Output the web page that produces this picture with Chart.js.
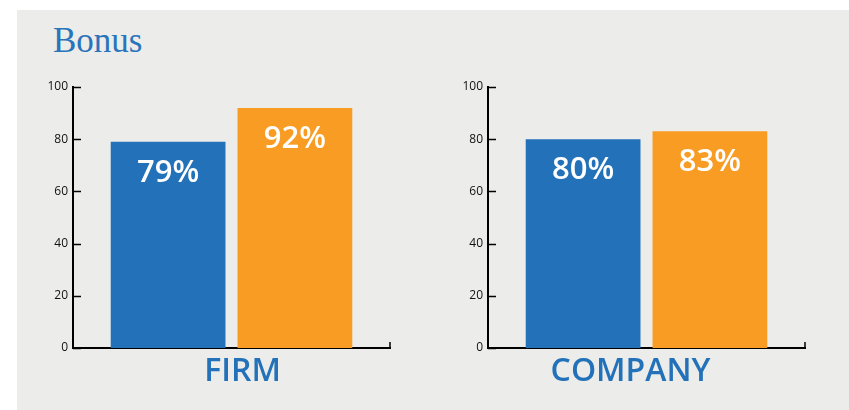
<!DOCTYPE html>
<html><head><meta charset="utf-8">
<script src="https://cdn.jsdelivr.net/npm/chart.js@4/dist/chart.umd.min.js"></script>
<style>
html,body{margin:0;padding:0;background:#fff;width:849px;height:410px;overflow:hidden;position:relative;}
#panel{position:absolute;left:17px;top:10px;width:832px;height:400px;background:#ececea;}
#title{position:absolute;left:53px;top:21px;font-family:"Liberation Serif",serif;font-size:35px;color:#2a74bb;line-height:40px;}
#c1{position:absolute;left:0;top:0;}
#c2{position:absolute;left:415px;top:0;}
</style></head>
<body>
<div id="panel"></div>
<div id="title">Bonus</div>
<canvas id="c1" width="415" height="410"></canvas>
<canvas id="c2" width="434" height="410"></canvas>
<script>
const groups = ['FIRM', 'COMPANY'];
const seriesBlue = [79, 80];
const seriesOrange = [92, 83];
const yTickValues = [0, 20, 40, 60, 80, 100];
const labelOffsets = [11, -16];

const BLUE = '#2271b9', ORANGE = '#f89c23';

const axisDecor = {
  id: 'axisDecor',
  afterDraw(chart) {
    const {ctx, chartArea: {left, right, bottom}, scales: {y}} = chart;
    ctx.save();
    ctx.strokeStyle = '#000';
    ctx.lineWidth = 1.5;
    y.ticks.forEach(t => {
      const py = Math.round(y.getPixelForValue(t.value)) + 0.5;
      ctx.beginPath(); ctx.moveTo(left, py); ctx.lineTo(left + 8, py); ctx.stroke();
    });
    ctx.beginPath(); ctx.moveTo(right, bottom); ctx.lineTo(right, bottom - 6); ctx.stroke();
    ctx.restore();
  }
};

const barLabels = {
  id: 'barLabels',
  afterDatasetsDraw(chart) {
    const {ctx} = chart;
    ctx.save();
    ctx.fillStyle = '#fff';
    ctx.font = '600 31px "Open Sans"';
    ctx.textAlign = 'center';
    ctx.textBaseline = 'middle';
    chart.data.datasets.forEach((ds, di) => {
      chart.getDatasetMeta(di).data.forEach((bar, i) => {
        ctx.fillText(ds.data[i] + '%', bar.x, bar.y + 31);
      });
    });
    ctx.restore();
  }
};

function makeChart(id, idx, rightPad) {
  return new Chart(document.getElementById(id), {
    type: 'bar',
    data: {
      labels: [groups[idx]],
      datasets: [
        {label: 'A', data: [seriesBlue[idx]], backgroundColor: BLUE},
        {label: 'B', data: [seriesOrange[idx]], backgroundColor: ORANGE}
      ]
    },
    options: {
      responsive: false,
      animation: false,
      devicePixelRatio: 1,
      layout: {padding: {left: 0, right: rightPad, top: 87, bottom: 0}},
      plugins: {legend: {display: false}, tooltip: {enabled: false}, title: {display: false}},
      datasets: {bar: {categoryPercentage: 0.8, barPercentage: 0.905}},
      scales: {
        x: {
          grid: {display: false, drawTicks: false},
          border: {display: true, color: '#000', width: 2},
          ticks: {color: '#2271b9', font: {family: '"Open Sans"', size: 32, weight: '600'}, padding: 5, labelOffset: labelOffsets[idx]},
          afterFit(s) { s.height = 62; }
        },
        y: {
          min: 0, max: 100,
          afterBuildTicks(s) { s.ticks = yTickValues.map(v => ({value: v})); },
          grid: {display: false, drawTicks: false},
          border: {display: true, color: '#000', width: 2},
          ticks: {color: '#111', font: {family: '"Open Sans"', size: 12}, padding: 5},
          afterFit(s) { s.width = 73; }
        }
      }
    },
    plugins: [axisDecor, barLabels]
  });
}
makeChart('c1', 0, 25);
makeChart('c2', 1, 44);
</script>
</body></html>
